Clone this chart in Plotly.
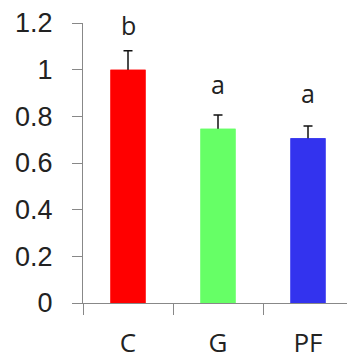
import plotly.graph_objects as go

categories = ["C", "G", "PF"]
values = [1.0, 0.747, 0.706]
errors = [0.081, 0.059, 0.053]
letters = ["b", "a", "a"]
colors = ["#FF0000", "#66FF66", "#3333EE"]
y_ticks = [0, 0.2, 0.4, 0.6, 0.8, 1.0, 1.2]
y_tick_text = ["0", "0.2", "0.4", "0.6", "0.8", "1", "1.2"]

axis_col = "#888888"

fig = go.Figure()
# bars with symmetric error bars; the lower half is hidden by the overlaid bars
fig.add_trace(go.Bar(
    x=categories, y=values, width=0.39,
    marker=dict(color=colors, line=dict(width=0)),
    error_y=dict(type="data", array=errors, symmetric=True,
                 color="#111111", thickness=1.5, width=4.5),
))
fig.add_trace(go.Bar(
    x=categories, y=values, width=0.39,
    marker=dict(color=colors, line=dict(width=0)),
    hoverinfo="skip",
))

for c, v, t in zip(categories, values, letters):
    fig.add_annotation(x=c, y=v, text=t, showarrow=False,
                       yanchor="bottom", yshift=27, borderpad=0,
                       font=dict(family="Open Sans", size=25, color="#222222"))

# the page body adds an 8px margin, so the figure is 8px smaller than the window
fig.update_layout(
    width=347, height=351,
    margin=dict(l=75, r=2, t=15, b=56),
    paper_bgcolor="white", plot_bgcolor="white",
    showlegend=False, barmode="overlay",
    xaxis=dict(range=[-0.5, 2.5], showline=True, linecolor=axis_col, linewidth=1.2,
               ticks="outside", ticklen=11, tickcolor=axis_col, tickwidth=1.2,
               tickson="boundaries", ticklabelstandoff=17, automargin=False,
               tickfont=dict(family="Open Sans", size=26, color="#222222"),
               showgrid=False, zeroline=False),
    yaxis=dict(range=[0, 1.2], showline=True, linecolor=axis_col, linewidth=1.2,
               ticks="outside", ticklen=10, tickcolor=axis_col, tickwidth=1.2,
               tickvals=y_ticks, ticktext=y_tick_text, ticklabelstandoff=14,
               automargin=False,
               tickfont=dict(family="Liberation Sans", size=27, color="#222222"),
               showgrid=False, zeroline=False),
)

fig.write_html("out.html")
